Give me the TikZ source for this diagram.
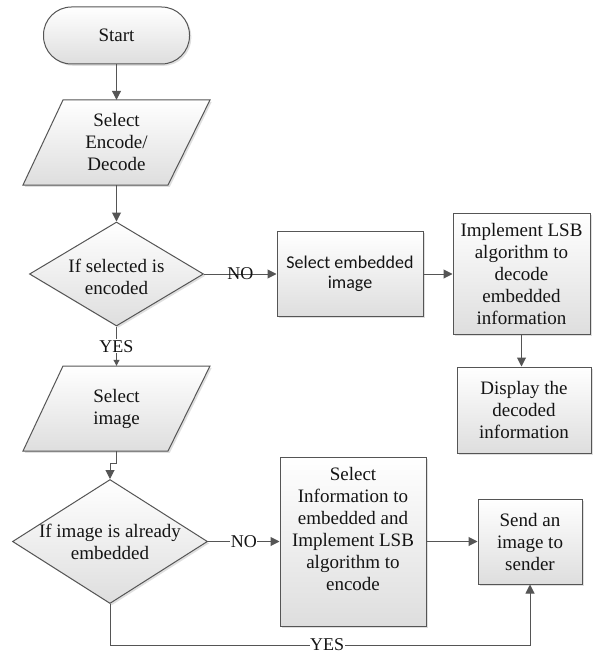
\documentclass[tikz,border=0pt]{standalone}
\usepackage{fontspec}
\setmainfont{Liberation Serif}
\newfontfamily\sansf{Carlito}
\usetikzlibrary{arrows.meta,shapes.geometric,shadows}
\definecolor{ln}{HTML}{555555}
\definecolor{tx}{HTML}{141414}
\tikzset{
  shp/.style={draw=ln, line width=1pt, top color=white, bottom color=black!13,
    drop shadow={shadow xshift=1.8pt, shadow yshift=-1.8pt, opacity=0.25}},
  txt/.style={font=\fontsize{19}{22}\selectfont, text=tx, align=center, inner sep=0pt},
  box/.style={shp, rectangle, txt},
  term/.style={box, rounded corners=28pt},
  dia/.style={shp, diamond, inner sep=0pt},
  arr/.style={draw=ln, line width=1pt, -{Triangle[length=9pt,width=9pt]}},
  sarr/.style={draw=ln, line width=1pt, -{Triangle[length=6pt,width=6pt]}},
  lbl/.style={font=\fontsize{18}{20}\selectfont, text=tx, inner sep=1pt},
}
\begin{document}
\begin{tikzpicture}[x=1pt,y=-1pt]
\useasboundingbox[fill=white] (0,0) rectangle (592,655);

% Start
\node[term, minimum width=146, minimum height=57] (start) at (116.5,35.5) {Start};

% Parallelogram 1
\path[shp] (63,100) -- (210,100) -- (168,185) -- (23,185) -- cycle;
\node[txt, minimum width=100, minimum height=85] (p1) at (116.5,142.5) {Select\\Encode/\\Decode};

% Diamond 1
\node[dia, minimum width=174, minimum height=104] (d1) at (116.5,274) {};
\node[txt] (d1t) at (116.5,277) {If selected is\\encoded};

% Decode branch
\node[box, minimum width=146, minimum height=85, font=\sansf\fontsize{18}{20}\selectfont] (b1) at (350,274) {Select embedded\\image};
\node[box, minimum width=137, minimum height=121] (b2) at (521.5,274) {Implement LSB\\algorithm to\\decode\\embedded\\information};
\node[box, minimum width=134, minimum height=86] (b3) at (524,410) {Display the\\decoded\\information};

% Parallelogram 2
\path[shp] (63,366) -- (210,366) -- (168,451) -- (23,451) -- cycle;
\node[txt, minimum width=100, minimum height=85] (p2) at (116.5,408.5) {Select\\image};

% Diamond 2
\node[dia, minimum width=195, minimum height=124] (d2) at (110,541.5) {};
\node[txt] (d2t) at (110,542) {If image is already\\embedded};

% Encode branch
\node[box, minimum width=146, minimum height=169] (b4) at (353,541.5) {};
\node[txt] (b4t) at (353,529) {Select\\Information to\\embedded and\\Implement LSB\\algorithm to\\encode};
\node[box, minimum width=104, minimum height=85] (b5) at (530,541.5) {Send an\\image to\\sender};

\coordinate (c1) at (110,645);
\coordinate (c2) at (530,645);

% Connectors
\draw[arr] (start.south) -- (p1.north);
\draw[arr] (p1.south) -- (d1.north);
\draw[arr] (d1.east) -- node[lbl]{NO} (b1.west);
\draw[arr] (b1.east) -- (b2.west);
\draw[arr] (b2.south) -- (b2.south |- b3.north);
\draw[sarr] (d1.south) -- node[lbl, fill=white]{YES} (p2.north);
\draw[arr] (p2.south) -- ++(0,12) -| (d2.north);
\draw[arr] (d2.east) -- node[lbl, fill=white, inner sep=0.5pt]{NO} (b4.west);
\draw[arr] (b4.east) -- (b5.west);
\draw[arr] (d2.south) -- (c1) -- node[lbl, fill=white, inner sep=0.5pt, pos=0.517]{YES} (c2) -- (b5.south);
\end{tikzpicture}
\end{document}
